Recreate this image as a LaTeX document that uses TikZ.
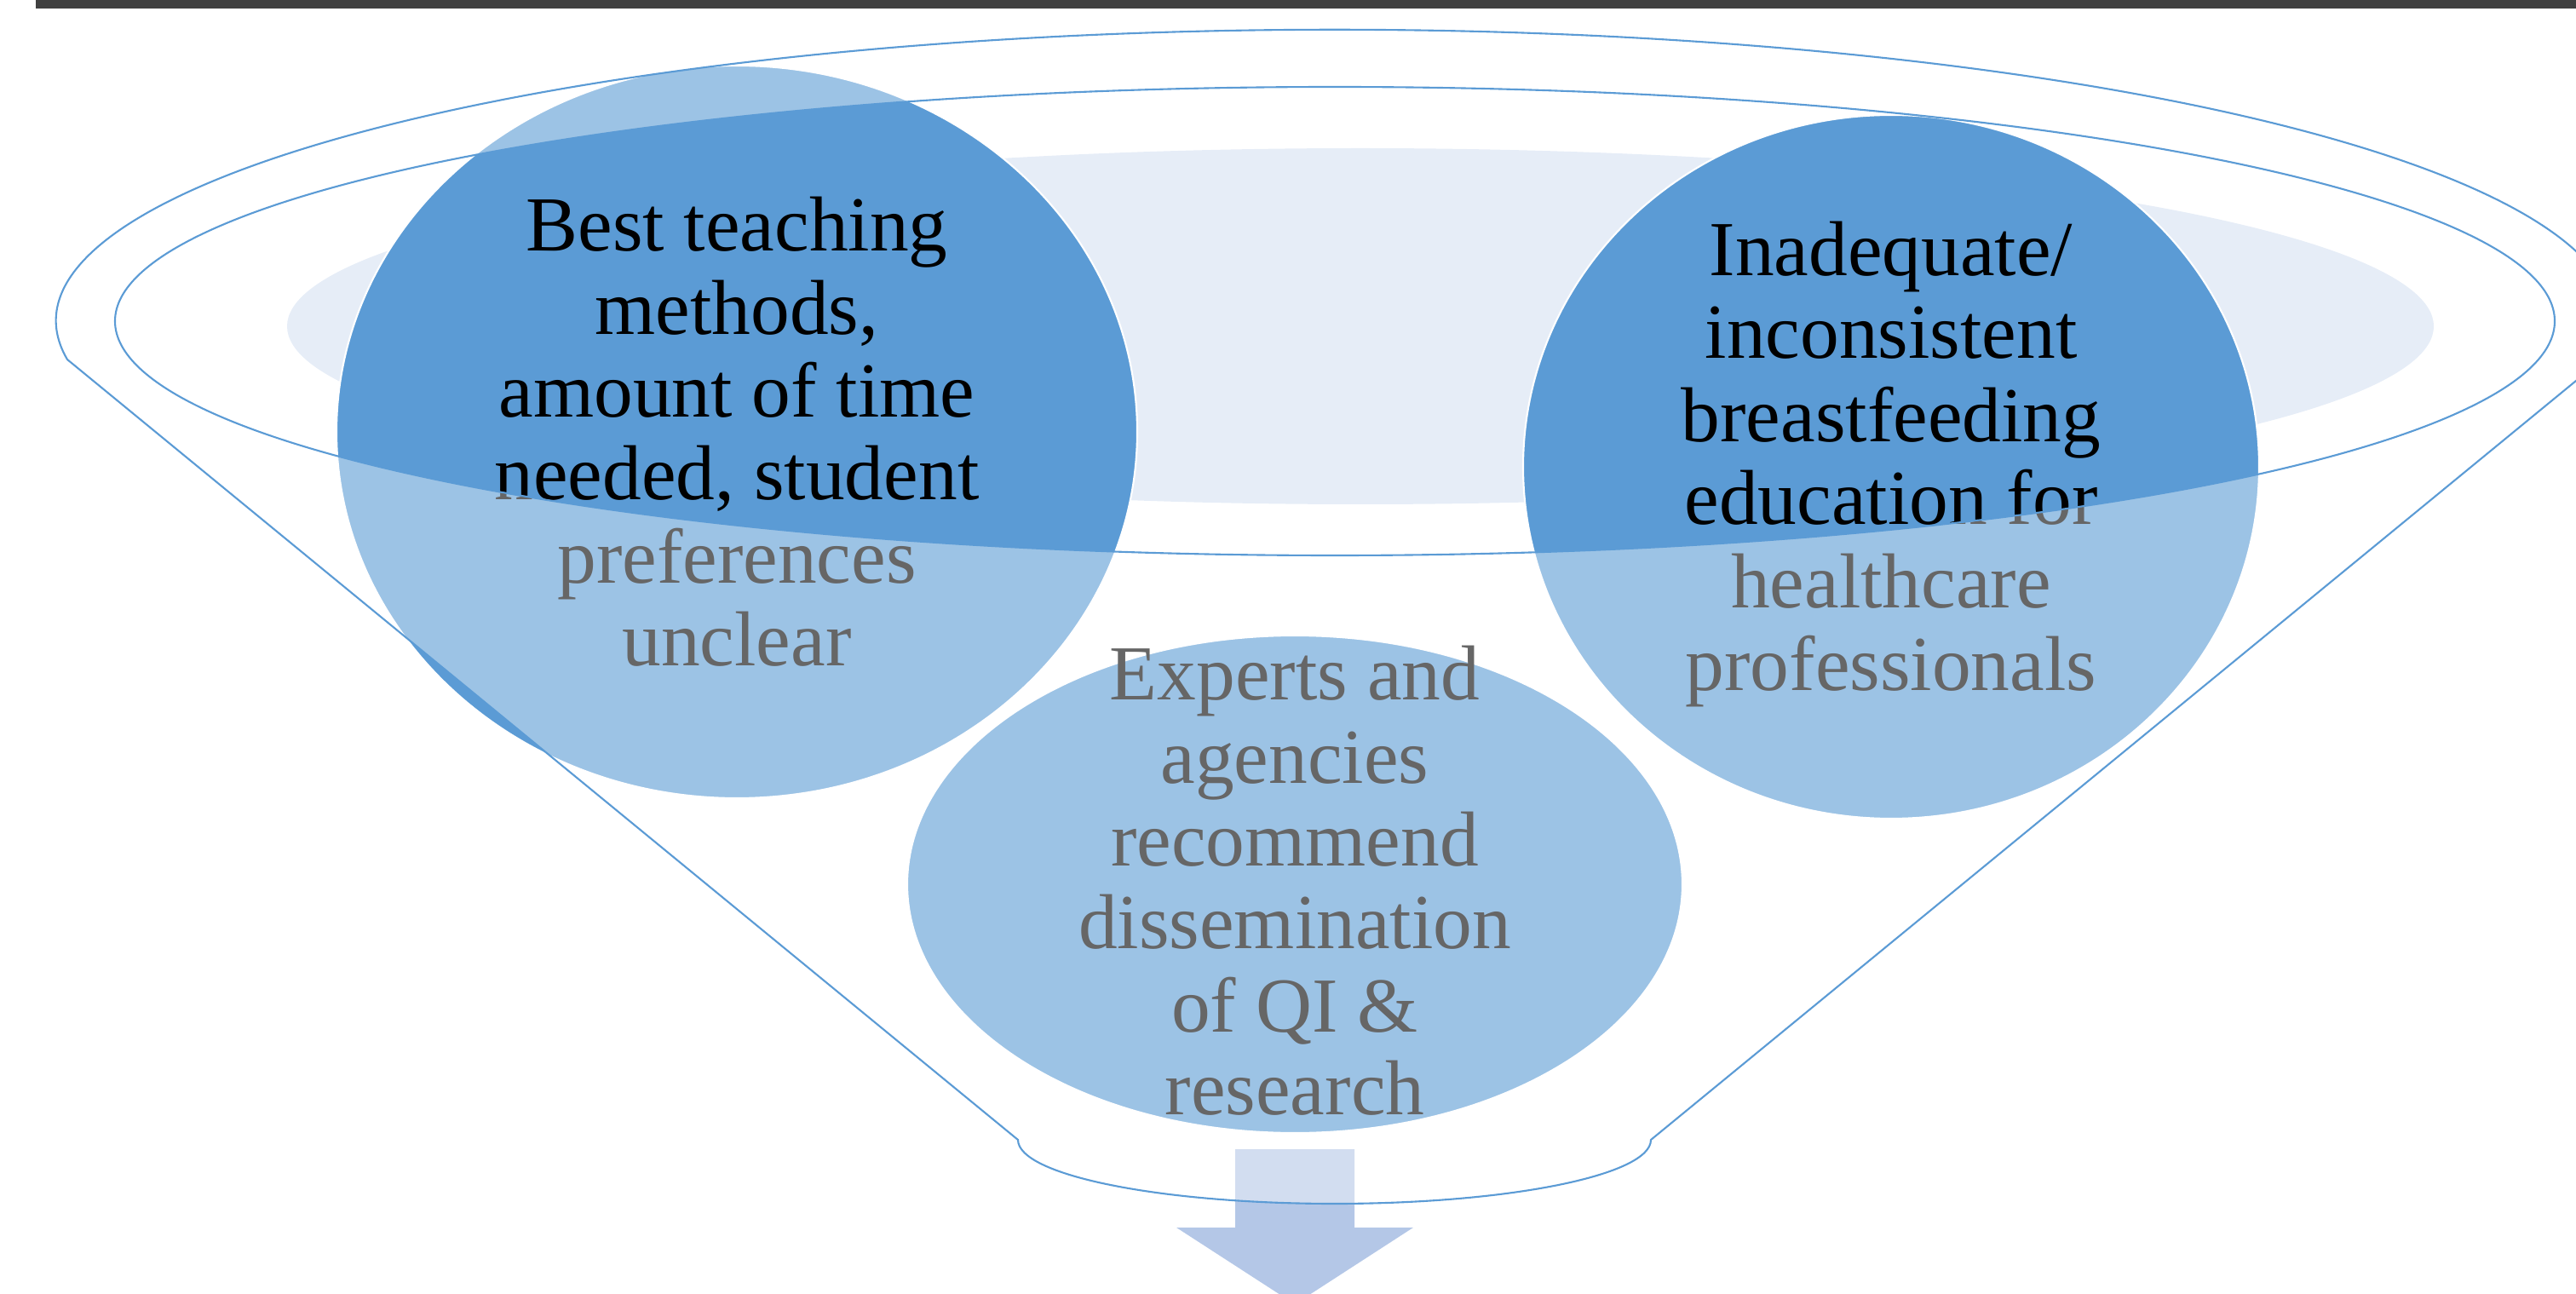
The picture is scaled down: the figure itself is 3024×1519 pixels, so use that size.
\documentclass[tikz,border=0pt]{standalone}
\usepackage{fontspec}
\setmainfont{Liberation Serif}
\definecolor{funnelblue}{HTML}{5B9BD5}
\definecolor{paleblue}{HTML}{E6EDF7}
\definecolor{arrowblue}{HTML}{B4C7E7}
\definecolor{bargray}{HTML}{404040}
\begin{document}
\begin{tikzpicture}[x=0.01cm,y=-0.01cm,
    bubble/.style={fill=funnelblue,draw=white,line width=0.6pt},
    bubbletext/.style={align=center,inner sep=0pt,text=black,font=\fontsize{26}{27.7}\selectfont},
    rim/.style={draw=funnelblue,line width=0.6pt}]
                \useasboundingbox(0,0)rectangle(3024,1519);
                \fill[bargray](42,0)rectangle(3024,10);
                \fill[paleblue](1597,383)ellipse[x radius=1260,y radius=209];
                \draw[bubble](865,507)ellipse[x radius=470,y radius=430];
                \draw[bubble](2220,548)ellipse[x radius=432,y radius=413];
                \draw[bubble](1520,1038)ellipse[x radius=455,y radius=292];
                \node[bubbletext](best)at(865,507){Best teaching\\methods,\\amount of time\\needed, student\\preferences\\unclear};
                \node[bubbletext](inadequate)at(2220,545){Inadequate/\\inconsistent\\breastfeeding\\education for\\healthcare\\professionals};
                \node[bubbletext](experts)at(1520,1034){Experts and\\agencies\\recommend\\dissemination\\of QI \&\\research};
                % arrow out of the funnel
                \fill[arrowblue](1450,1349)--(1590,1349)--(1590,1441)--(1659,1441)--(1520,1531)
                    --(1381,1441)--(1450,1441)--cycle;
                % funnel body, the opening left clear
                \path[fill=white,fill opacity=0.4,even odd rule]
                    (79,422)arc[start angle=172.4,end angle=367.6,x radius=1501,y radius=342]
                    --(1938,1338)arc[start angle=0,end angle=180,x radius=371.5,y radius=75]--cycle
                    (1567,377)ellipse[x radius=1432,y radius=275];
                \draw[rim](79,422)arc[start angle=172.4,end angle=367.6,x radius=1501,y radius=342]
                    --(1938,1338)arc[start angle=0,end angle=180,x radius=371.5,y radius=75]--cycle;
                \draw[rim](1567,377)ellipse[x radius=1432,y radius=275];
\end{tikzpicture}
\end{document}
